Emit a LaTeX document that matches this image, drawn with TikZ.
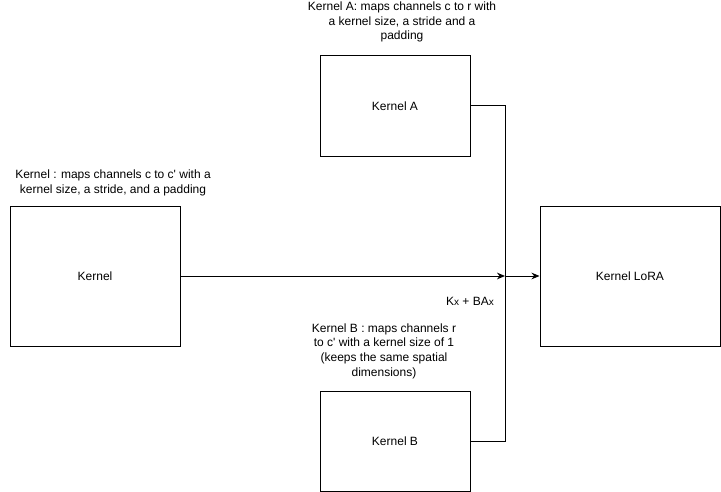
\documentclass[tikz,border=0pt]{standalone}
\usepackage{fontspec}
\setmainfont{Liberation Sans}
\usetikzlibrary{arrows.meta}
\begin{document}
\begin{tikzpicture}[x=0.75pt,y=-0.75pt,
  box/.style={draw,line width=0.75pt,fill=white,font=\fontsize{9}{11}\selectfont,inner sep=0pt},
  lbl/.style={align=center,font=\fontsize{9}{11}\selectfont,inner sep=0pt},
  conn/.style={line width=0.75pt},
  arr/.style={conn,-{Stealth[length=6pt,width=5pt]}}]
\useasboundingbox[fill=white] (0,0) rectangle (721,492);
\node[box,minimum width=127.5pt,minimum height=105pt] (k) at (95,276) {Kernel};
\node[box,minimum width=112.5pt,minimum height=75pt] (ka) at (395,106) {Kernel A};
\node[box,minimum width=112.5pt,minimum height=75pt] (kb) at (395,441) {Kernel B};
\node[box,minimum width=135pt,minimum height=105pt] (lora) at (630,276) {Kernel LoRA};
\coordinate (j) at (505,276);
\draw[conn] (ka.east) -| (j);
\draw[conn] (kb.east) -| (j);
\draw[arr] (k.east) -- (j);
\draw[arr] (j) -- (lora.west);
\node[lbl] (lk) at (113,183) {Kernel : maps channels c to c\textquotesingle{} with a\\kernel size, a stride, and a padding};
\node[lbl] (la) at (402,22) {Kernel A: maps channels c to r with\\a kernel size, a stride and a\\padding};
\node[lbl] (lb) at (384,351) {Kernel B : maps channels r\\to c\textquotesingle{} with a kernel size of 1\\(keeps the same spatial\\dimensions)};
\node[lbl] (sum) at (470,301) {K{\fontsize{7.5}{8}\selectfont x} + BA{\fontsize{7.5}{8}\selectfont x}};
\end{tikzpicture}
\end{document}
